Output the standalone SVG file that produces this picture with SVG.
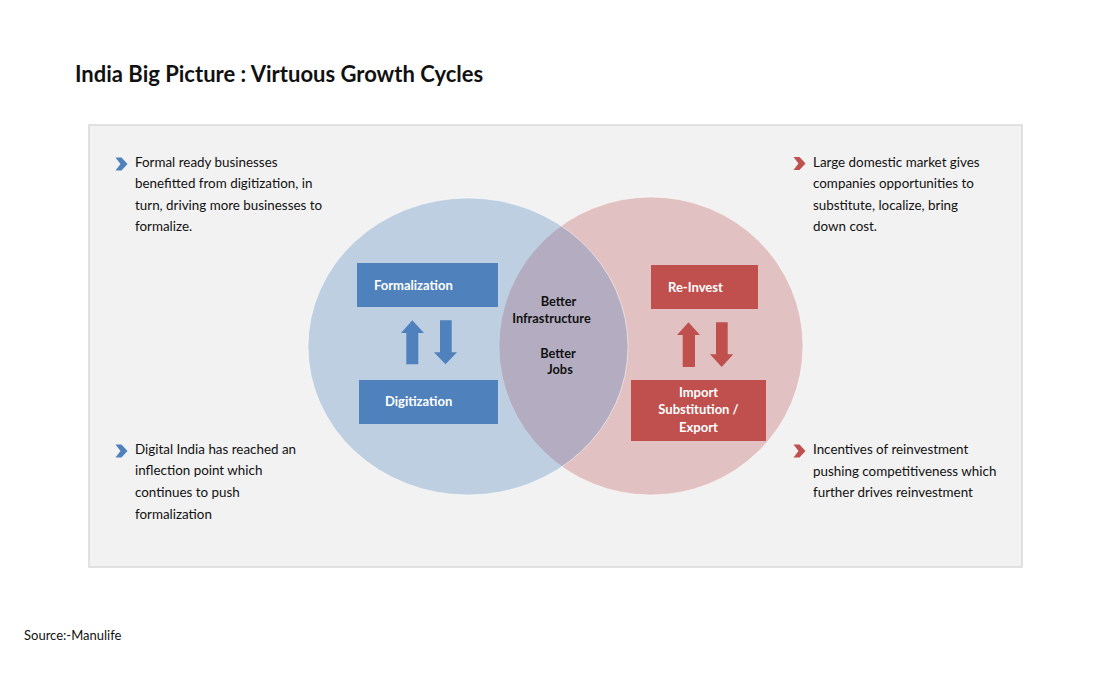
<svg xmlns="http://www.w3.org/2000/svg" width="1100" height="700" viewBox="0 0 1100 700">
<style>
.t{font-family:Lato,"Liberation Sans",sans-serif;fill:#111}
.body{font-size:13.4px}
.lbl{font-family:Lato,"Liberation Sans",sans-serif;font-size:13px;font-weight:bold;fill:#fff}
.mid{font-family:Lato,"Liberation Sans",sans-serif;font-size:12.8px;font-weight:bold;fill:#111;text-anchor:middle}
.blue{fill:#4f81bd}
.red{fill:#c0504d}
</style>
<defs>
<path id="chev" d="M0,0 L6,0 L12,6.5 L6,13 L0,13 L5,6.5 Z"/>
</defs>
<rect width="1100" height="700" fill="#fff"/>
<text class="t" x="75" y="82" font-size="22" font-weight="bold">India Big Picture : Virtuous Growth Cycles</text>
<rect x="89" y="125" width="933" height="442" fill="#f2f2f2" stroke="#d9d9d9" stroke-width="1.5"/>
<g id="circles">
<ellipse cx="651" cy="346" rx="152" ry="149" fill="#e2c1c2" stroke="#fff" stroke-opacity="0.5"/>
<ellipse cx="468" cy="346.5" rx="160" ry="148.5" fill="#4f81bd" fill-opacity="0.31" stroke="#fff" stroke-opacity="0.5"/>
</g>
<g id="center-text">
<text class="mid" x="558.5" y="306">Better</text>
<text class="mid" x="551.5" y="322.5">Infrastructure</text>
<text class="mid" x="558" y="357.5">Better</text>
<text class="mid" x="560" y="374">Jobs</text>
</g>
<g id="formalization">
<rect class="blue" x="357" y="263" width="141" height="44"/>
<text class="lbl" x="374" y="290">Formalization</text>
</g>
<g id="digitization">
<rect class="blue" x="359" y="380" width="139" height="44"/>
<text class="lbl" x="385" y="406">Digitization</text>
</g>
<g id="reinvest">
<rect class="red" x="651" y="265" width="107" height="44"/>
<text class="lbl" x="668" y="292">Re-Invest</text>
</g>
<g id="import">
<rect class="red" x="631" y="380" width="135" height="61"/>
<text class="lbl" x="698.5" y="397" text-anchor="middle">Import</text>
<text class="lbl" x="698.5" y="414" text-anchor="middle">Substitution /</text>
<text class="lbl" x="698.5" y="431.5" text-anchor="middle">Export</text>
</g>
<g id="connectors">
<polygon class="blue" points="412.3,320.3 424,333 418.3,333 418.3,364.3 406.3,364.3 406.3,333 401,333"/>
<polygon class="blue" points="440,320.3 451.7,320.3 451.7,352.3 457,352.3 445.5,364.3 434,352.3 440,352.3"/>
<polygon class="red" points="688.5,322.3 700,335 695,335 695,367 682.7,367 682.7,335 677,335"/>
<polygon class="red" points="716,322.3 727.7,322.3 727.7,354.3 733.3,354.3 721.7,367 710,354.3 716,354.3"/>
</g>
<g id="note-tl">
<use href="#chev" x="115.5" y="157.5" class="blue"/>
<text class="t body" x="135"><tspan x="135" y="166.7">Formal ready businesses</tspan><tspan x="135" y="188.3">benefitted from digitization, in</tspan><tspan x="135" y="210">turn, driving more businesses to</tspan><tspan x="135" y="230.7">formalize.</tspan></text>
</g>
<g id="note-bl">
<use href="#chev" x="115.5" y="444.5" class="blue"/>
<text class="t body" x="135"><tspan x="135" y="453.5">Digital India has reached an</tspan><tspan x="135" y="475">inflection point which</tspan><tspan x="135" y="497">continues to push</tspan><tspan x="135" y="518.5">formalization</tspan></text>
</g>
<g id="note-tr">
<use href="#chev" x="793.5" y="157" class="red"/>
<text class="t body" x="813"><tspan x="813" y="166.7">Large domestic market gives</tspan><tspan x="813" y="188.3">companies opportunities to</tspan><tspan x="813" y="210">substitute, localize, bring</tspan><tspan x="813" y="230.7">down cost.</tspan></text>
</g>
<g id="note-br">
<use href="#chev" x="793.5" y="444.5" class="red"/>
<text class="t body" x="813"><tspan x="813" y="454">Incentives of reinvestment</tspan><tspan x="813" y="476">pushing competitiveness which</tspan><tspan x="813" y="497">further drives reinvestment</tspan></text>
</g>
<text class="t" x="24" y="640" font-size="13">Source:-Manulife</text>
</svg>
